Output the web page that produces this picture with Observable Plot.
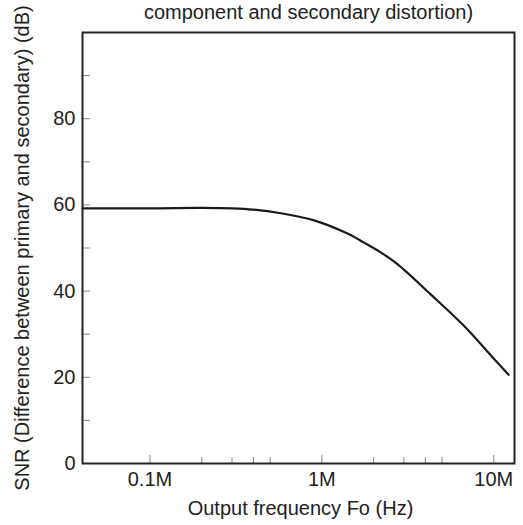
<!DOCTYPE html>
<html><head><meta charset="utf-8">
<script src="https://cdn.jsdelivr.net/npm/d3@7"></script>
<script src="https://cdn.jsdelivr.net/npm/@observablehq/plot@0.6"></script>
<style>body{margin:0;background:#fff} svg{display:block}</style>
</head><body><div id="chart"></div>
<script>
const freqHz = [40500, 1e5, 2e5, 3e5, 4e5, 6e5, 9e5, 1.4e6, 1.75e6, 2.2e6, 2.74e6, 4.28e6, 6.68e6, 1.045e7, 1.22e7];
const snrDb  = [59.2, 59.2, 59.3, 59.2, 58.9, 57.95, 56.4, 53.4, 51.3, 49.0, 46.3, 39.3, 32.0, 23.5, 20.6];
const xMajorTicks = [1e5, 1e6, 1e7];
const xMajorLabels = ["0.1M", "1M", "10M"];
const xMinorTicks = [2e5, 3e5, 4e5, 5e5, 2e6, 3e6, 4e6, 5e6];
const yMajorTicks = [0, 20, 40, 60, 80];
const yMinorTicks = [10, 30, 50, 70, 90];
const titleText = "component and secondary distortion)";
const xLabel = "Output frequency Fo (Hz)";
const yLabel = "SNR (Difference between primary and secondary) (dB)";

const data = freqHz.map((f, i) => ({f, v: snrDb[i]}));
const fmtX = d => xMajorLabels[xMajorTicks.indexOf(d)];
const ink = "#222";
const tickGray = "#888";

const chart = Plot.plot({
  width: 523, height: 525,
  marginLeft: 82, marginRight: 9, marginTop: 32, marginBottom: 62,
  style: {fontFamily: "'Liberation Sans', Arial, sans-serif", fontSize: "20px", color: ink, background: "#fff"},
  x: {type: "log", domain: [40500, 13.2e6]},
  y: {domain: [0, 100]},
  marks: [
    Plot.axisX(xMajorTicks, {tickSize: -8, tickFormat: () => "", stroke: tickGray, label: null}),
    Plot.axisX(xMinorTicks, {tickSize: -6, tickFormat: () => "", stroke: tickGray, label: null}),
    Plot.axisX(xMajorTicks, {tickSize: 0, tickPadding: 8, tickFormat: fmtX, fill: ink, fontSize: 20, label: null}),
    Plot.axisY(yMajorTicks, {tickSize: -8, tickFormat: () => "", stroke: tickGray, label: null}),
    Plot.axisY(yMinorTicks, {tickSize: -8, tickFormat: () => "", stroke: tickGray, label: null}),
    Plot.axisY(yMajorTicks, {tickSize: 0, tickPadding: 7, fill: ink, fontSize: 20, label: null}),
    Plot.line(data, {x: "f", y: "v", stroke: "#1a1a1a", strokeWidth: 2.2, curve: "catmull-rom"}),
    Plot.frame({stroke: ink, strokeWidth: 2}),
    Plot.text([titleText], {text: d => d, frameAnchor: "top", dx: 10, dy: -28, fontSize: 20, fill: ink}),
    Plot.text([xLabel], {text: d => d, frameAnchor: "bottom", dx: 2, dy: 51, fontSize: 20, fill: ink}),
    Plot.text([yLabel], {text: d => d, frameAnchor: "left", textAnchor: "middle", dx: -60, dy: 0, rotate: -90, fontSize: 20, fill: ink})
  ]
});
document.getElementById("chart").append(chart);
</script>
</body></html>
